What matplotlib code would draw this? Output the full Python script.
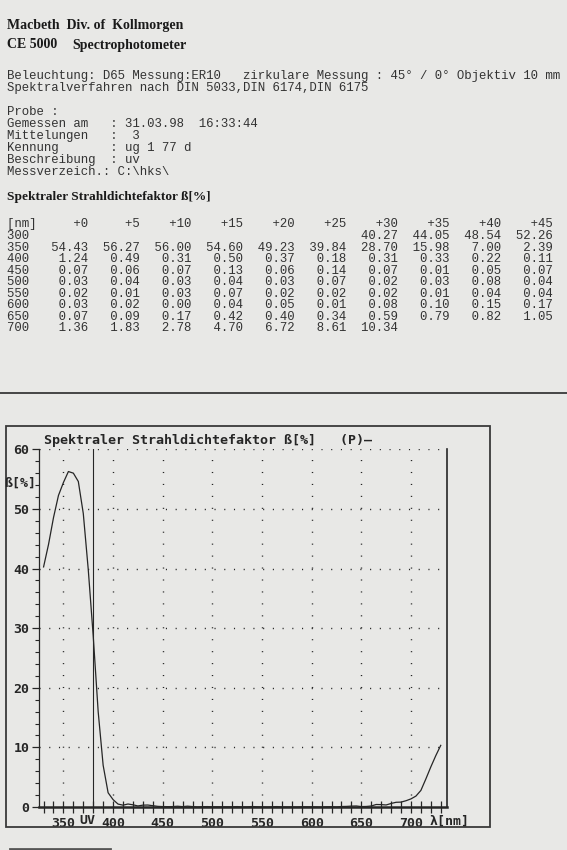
import matplotlib
matplotlib.use("Agg")
import matplotlib.pyplot as plt
from matplotlib.patches import Rectangle
from matplotlib.lines import Line2D

W, H = 567, 850
PAPER = "#e8e8e6"
INK = "#262626"
MONO = "Liberation Mono"
SERIF = "Liberation Serif"
PIX = "DejaVu Sans Mono"

# spectral radiance factor beta [%], rows = start wavelength, cols = +offset
row_nm = [300, 350, 400, 450, 500, 550, 600, 650, 700]
col_offsets = [0, 5, 10, 15, 20, 25, 30, 35, 40, 45]
beta_300 = [None, None, None, None, None, None, 40.27, 44.05, 48.54, 52.26]
beta_350 = [54.43, 56.27, 56.00, 54.60, 49.23, 39.84, 28.70, 15.98, 7.00, 2.39]
beta_400 = [1.24, 0.49, 0.31, 0.50, 0.37, 0.18, 0.31, 0.33, 0.22, 0.11]
beta_450 = [0.07, 0.06, 0.07, 0.13, 0.06, 0.14, 0.07, 0.01, 0.05, 0.07]
beta_500 = [0.03, 0.04, 0.03, 0.04, 0.03, 0.07, 0.02, 0.03, 0.08, 0.04]
beta_550 = [0.02, 0.01, 0.03, 0.07, 0.02, 0.02, 0.02, 0.01, 0.04, 0.04]
beta_600 = [0.03, 0.02, 0.00, 0.04, 0.05, 0.01, 0.08, 0.10, 0.15, 0.17]
beta_650 = [0.07, 0.09, 0.17, 0.42, 0.40, 0.34, 0.59, 0.79, 0.82, 1.05]
beta_700 = [1.36, 1.83, 2.78, 4.70, 6.72, 8.61, 10.34, None, None, None]
beta_rows = [beta_300, beta_350, beta_400, beta_450, beta_500,
             beta_550, beta_600, beta_650, beta_700]

info_lines = [
    "Beleuchtung: D65 Messung:ER10   zirkulare Messung : 45\u00b0 / 0\u00b0 Objektiv 10 mm",
    "Spektralverfahren nach DIN 5033,DIN 6174,DIN 6175",
]
probe_lines = [
    "Probe :",
    "Gemessen am   : 31.03.98  16:33:44",
    "Mittelungen   :  3",
    "Kennung       : ug 1 77 d",
    "Beschreibung  : uv",
    "Messverzeich.: C:\\hks\\",
]

x_labeled = [350, 400, 450, 500, 550, 600, 650, 700]
y_major = [0, 10, 20, 30, 40, 50, 60]
uv_edge = 380


def fx(px):
    return px / W


def fy(py):
    return 1 - py / H


fig = plt.figure(figsize=(W / 100, H / 100), dpi=100, facecolor=PAPER)

# --- printed header ---
fig.text(fx(7), fy(26), "Macbeth  Div. of  Kollmorgen", family=SERIF,
         weight="bold", size=10, va="center", color="#1a1a1a")
fig.text(fx(7), fy(45), "CE 5000", family=SERIF, weight="bold", size=10,
         va="center", color="#1a1a1a")
fig.text(fx(72), fy(45), "Spectrophotometer", family=SERIF, weight="bold",
         size=10, va="center", color="#1a1a1a")

for i, line in enumerate(info_lines):
    fig.text(fx(7), fy(76 + 12 * i), line, family=MONO, size=8.9,
             va="center", color="#333333")
for i, line in enumerate(probe_lines):
    fig.text(fx(7), fy(112 + 12 * i), line, family=MONO, size=8.9,
             va="center", color="#333333")

fig.text(fx(7), fy(197), "Spektraler Strahldichtefaktor \u00df[%]", family=SERIF,
         weight="bold", size=9.6, va="center", color="#1a1a1a")

# --- table (fixed width columns like the printout) ---
head = "[nm]" + "".join(f"{'+' + str(o):>7}" for o in col_offsets)
fig.text(fx(7), fy(224), head, family=MONO, size=8.9, va="center", color="#333333")
for i, (nm, vals) in enumerate(zip(row_nm, beta_rows)):
    s = f"{nm:<4}" + "".join(f"{v:7.2f}" if v is not None else " " * 7 for v in vals)
    fig.text(fx(7), fy(236 + 11.55 * i), s, family=MONO, size=8.9,
             va="center", color="#333333")

fig.add_artist(Line2D([0, 1], [fy(393), fy(393)], transform=fig.transFigure,
                      color="#2a2a2a", lw=1.2))
fig.add_artist(Line2D([fx(10), fx(110)], [fy(849), fy(849)],
                      transform=fig.transFigure, color="#555555", lw=2))

# --- chart printout ---
fig.add_artist(Rectangle((fx(5.7), fy(827)), (490 - 5.7) / W, (827 - 425.7) / H,
                         transform=fig.transFigure, fill=False,
                         ec="#3a3a3a", lw=1.3))

ax = fig.add_axes([fx(39), fy(807), (446.7 - 39) / W, (807 - 449.3) / H])
ax.set_facecolor(PAPER)

wl, beta = [], []
for nm, vals in zip(row_nm, beta_rows):
    for o, v in zip(col_offsets, vals):
        if v is not None:
            wl.append(nm + o)
            beta.append(v)

for v in y_major[1:]:
    ax.axhline(v, color=INK, lw=1.0, ls=(0, (0.8, 6.2)))
for v in x_labeled:
    ax.axvline(v, color=INK, lw=1.0, ls=(0, (0.8, 7.8)))
ax.axvline(uv_edge, color=INK, lw=0.8)

ax.plot(wl, beta, color=INK, lw=0.9, clip_on=False)

ax.set_xlim(325.4, 736)
ax.set_ylim(0, 60)

ax.spines["top"].set_visible(False)
ax.spines["right"].set_linewidth(1.2)
ax.spines["left"].set_linewidth(0.9)
ax.spines["bottom"].set_linewidth(1.8)
for s in ax.spines.values():
    s.set_color(INK)

xt = list(range(330, 731, 10))
ax.set_xticks(xt)
ax.set_xticklabels([str(t) if t in x_labeled else "" for t in xt])
ax.set_yticks(y_major)
ax.set_yticks(range(0, 61, 2), minor=True)
ax.tick_params(axis="x", direction="inout", length=8, width=0.9, color=INK,
               pad=3, labelsize=9.5)
ax.tick_params(axis="y", which="major", direction="out", length=5, width=0.9,
               color=INK, pad=2, labelsize=9.5)
ax.tick_params(axis="y", which="minor", direction="out", length=3, width=0.8,
               color=INK)
for lab in ax.get_xticklabels() + ax.get_yticklabels():
    lab.set_family(PIX)
    lab.set_weight("bold")
    lab.set_color(INK)

fig.text(fx(44), fy(440), "Spektraler Strahldichtefaktor \u00df[%]   (P)\u2014",
         family=PIX, weight="bold", size=9.6, va="center", color=INK)
fig.text(fx(4), fy(483), "\u00df[%]", family=PIX, weight="bold", size=9.5,
         va="center", color=INK)
fig.text(fx(87), fy(821), "UV", family=PIX, weight="bold", size=9.5,
         ha="center", va="center", color=INK)
fig.text(fx(430), fy(821), "\u03bb[nm]", family=PIX, weight="bold", size=9.5,
         va="center", color=INK)

fig.savefig("out.png", dpi=100, facecolor=PAPER)
